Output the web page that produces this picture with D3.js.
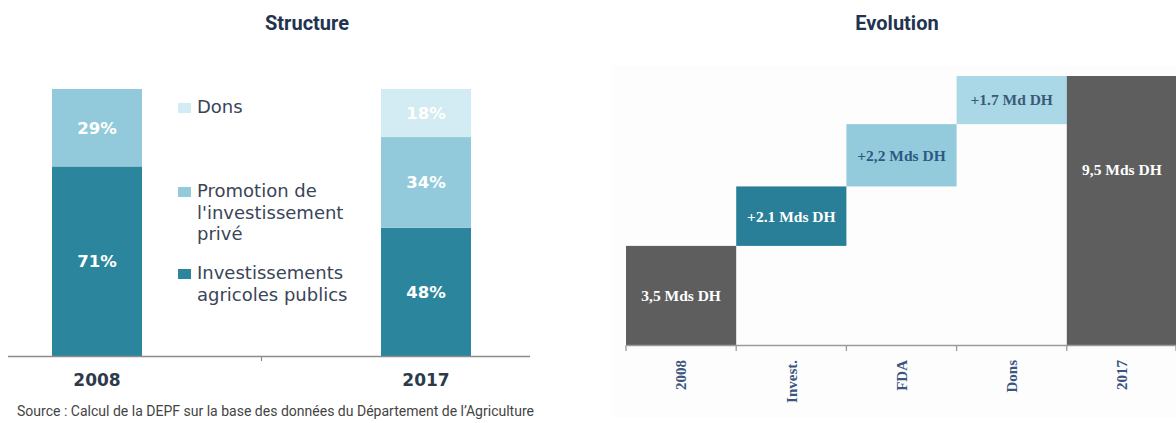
<!DOCTYPE html>
<html><head><meta charset="utf-8">
<script src="https://cdn.jsdelivr.net/npm/d3@7"></script>
<style>html,body{margin:0;padding:0;background:#fff;}svg{display:block;}</style>
</head><body>
<svg id="c" width="1176" height="423"></svg>
<script>
// ---- Data: Structure ----
const structYears = ["2008", "2017"];
const structSeries = ["Investissements agricoles publics", "Promotion de l'investissement privé", "Dons"];
const publicShare = [71, 48];
const privateShare = [29, 34];
const donsShare = [0, 18];
const legendLines = [["Dons"], ["Promotion de", "l'investissement", "privé"], ["Investissements", "agricoles publics"]];
const legendSeries = ["Dons", "Promotion de l'investissement privé", "Investissements agricoles publics"];

// ---- Data: Evolution ----
const evoCategories = ["2008", "Invest.", "FDA", "Dons", "2017"];
const evoValues = [3.5, 2.1, 2.2, 1.7, 9.5];
const evoLabels = ["3,5 Mds DH", "+2.1 Mds DH", "+2,2 Mds DH", "+1.7 Md DH", "9,5 Mds DH"];
const evoTypes = ["total", "delta", "delta", "delta", "total"];

const sourceText = "Source : Calcul de la DEPF sur la base des données du Département de l’Agriculture";

const svg = d3.select("#c");

// Titles
svg.append("text").attr("x", 307).attr("y", 30).attr("text-anchor", "middle")
  .attr("font-family", "Roboto").attr("font-weight", 700).attr("font-size", 20)
  .attr("fill", "#1f3450").text("Structure");
svg.append("text").attr("x", 897).attr("y", 30).attr("text-anchor", "middle")
  .attr("font-family", "Roboto").attr("font-weight", 700).attr("font-size", 20)
  .attr("fill", "#1f3450").text("Evolution");

// ---------- Structure chart ----------
const sColor = d3.scaleOrdinal().domain(structSeries).range(["#2b859c", "#93cadb", "#d3ebf3"]);
const sx = d3.scalePoint().domain(structYears).range([97, 426]);
const sy = d3.scaleLinear().domain([0, 100]).range([356, 89]);
const barW = 90;

const rows = structYears.map((y, i) => ({
  year: y,
  "Investissements agricoles publics": publicShare[i],
  "Promotion de l'investissement privé": privateShare[i],
  "Dons": donsShare[i]
}));
const stack = d3.stack().keys(structSeries)(rows);

const gS = svg.append("g");
stack.forEach(layer => {
  layer.forEach((d, i) => {
    const v = d[1] - d[0];
    if (v <= 0) return;
    gS.append("rect")
      .attr("x", sx(d.data.year) - barW / 2).attr("width", barW)
      .attr("y", sy(d[1])).attr("height", sy(d[0]) - sy(d[1]))
      .attr("fill", sColor(layer.key));
    gS.append("text")
      .attr("x", sx(d.data.year)).attr("y", (sy(d[0]) + sy(d[1])) / 2)
      .attr("dy", "0.36em").attr("text-anchor", "middle")
      .attr("font-family", "DejaVu Sans").attr("font-weight", 700).attr("font-size", 16.5)
      .attr("fill", "#ffffff").text(v + "%");
  });
});

// axis
gS.append("line").attr("x1", 8).attr("x2", 530).attr("y1", 356.5).attr("y2", 356.5)
  .attr("stroke", "#8c8c8c").attr("stroke-width", 1.5);
gS.append("line").attr("x1", (sx("2008") + sx("2017")) / 2).attr("x2", (sx("2008") + sx("2017")) / 2)
  .attr("y1", 356).attr("y2", 361).attr("stroke", "#8c8c8c").attr("stroke-width", 1.2);
structYears.forEach(y => {
  gS.append("text").attr("x", sx(y)).attr("y", 386).attr("text-anchor", "middle")
    .attr("font-family", "DejaVu Sans").attr("font-weight", 700).attr("font-size", 17)
    .attr("fill", "#2c3a4c").text(y);
});

// legend
const legendTop = [113, 197, 279];
legendSeries.forEach((s, i) => {
  gS.append("rect").attr("x", 178).attr("y", legendTop[i] - 10).attr("width", 13).attr("height", 10)
    .attr("fill", sColor(s));
  legendLines[i].forEach((ln, j) => {
    gS.append("text").attr("x", 197).attr("y", legendTop[i] + j * 21.5)
      .attr("font-family", "DejaVu Sans").attr("font-size", 18)
      .attr("fill", "#3a4558").text(ln);
  });
});

// source
svg.append("text").attr("x", 17).attr("y", 416)
  .attr("font-family", "Roboto").attr("font-size", 14)
  .attr("textLength", 517).attr("lengthAdjust", "spacingAndGlyphs")
  .attr("fill", "#444").text(sourceText);

// ---------- Evolution chart ----------
const gE = svg.append("g");
gE.append("rect").attr("x", 612).attr("y", 66).attr("width", 564).attr("height", 352).attr("fill", "#fdfdfd");

const ex = d3.scaleBand().domain(evoCategories).range([626, 1177]).padding(0);
const ey = d3.scaleLinear().domain([0, 9.5]).range([345, 76]);
const eColor = d3.scaleOrdinal().domain(evoCategories).range(["#5e5e5e", "#2a7f98", "#93cbdd", "#abd8e6", "#5e5e5e"]);
const eLabelColor = ["#ffffff", "#ffffff", "#2d5a82", "#3b5a7a", "#ffffff"];

let cum = 0;
const bars = evoCategories.map((c, i) => {
  let lo, hi;
  if (evoTypes[i] === "total") { lo = 0; hi = evoValues[i]; cum = evoValues[i]; }
  else { lo = cum; hi = cum + evoValues[i]; cum = hi; }
  return { c, lo, hi, i };
});

bars.forEach(b => {
  gE.append("rect").attr("x", ex(b.c)).attr("width", ex.bandwidth())
    .attr("y", ey(b.hi)).attr("height", ey(b.lo) - ey(b.hi))
    .attr("fill", eColor(b.c));
  const ly = b.i === 4 ? ey(b.hi) + 94 : (ey(b.lo) + ey(b.hi)) / 2;
  gE.append("text").attr("x", ex(b.c) + ex.bandwidth() / 2).attr("y", ly)
    .attr("dy", "0.35em").attr("text-anchor", "middle")
    .attr("font-family", "Liberation Serif").attr("font-weight", 700).attr("font-size", 15.5)
    .attr("fill", eLabelColor[b.i]).text(evoLabels[b.i]);
});

// axis
const xAxis = d3.axisBottom(ex).tickSize(0).tickFormat("");
const ax = gE.append("g").attr("transform", "translate(0,345)").call(xAxis);
ax.select(".domain").attr("stroke", "#9a9a9a").attr("stroke-width", 1.5);
const bounds = evoCategories.map(c => ex(c)).concat([ex(evoCategories[evoCategories.length - 1]) + ex.bandwidth() - 1]);
bounds.forEach(bx => {
  gE.append("line").attr("x1", bx).attr("x2", bx).attr("y1", 345).attr("y2", 351)
    .attr("stroke", "#9a9a9a").attr("stroke-width", 1.3);
});
evoCategories.forEach(c => {
  gE.append("text")
    .attr("transform", `translate(${ex(c) + ex.bandwidth() / 2},360) rotate(-90)`)
    .attr("text-anchor", "end").attr("dy", "0.35em")
    .attr("font-family", "Liberation Serif").attr("font-weight", 700).attr("font-size", 15)
    .attr("fill", "#3b5580").text(c);
});
</script>
</body></html>
